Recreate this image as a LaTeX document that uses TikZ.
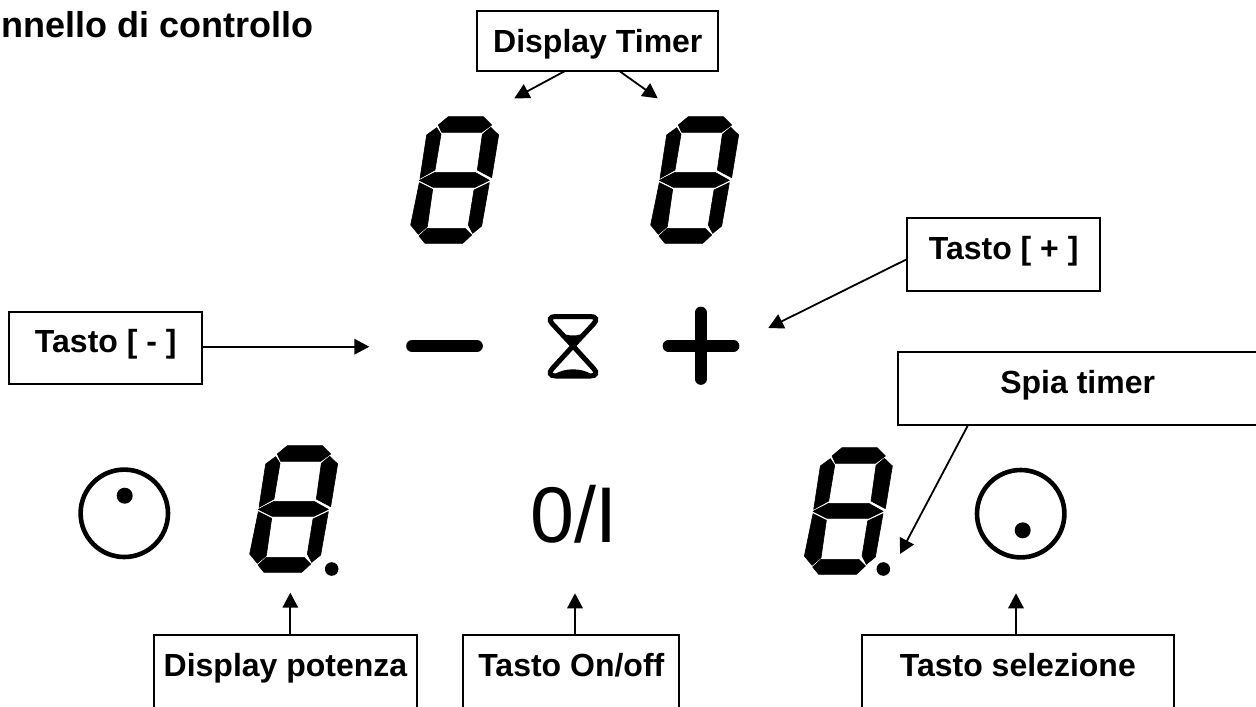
\documentclass[tikz,border=0pt]{standalone}
\usepackage{fontspec}
\setmainfont{Liberation Sans}
\usetikzlibrary{arrows.meta}
\tikzset{
  lbl/.style n args={3}{draw=black,line width=1.8pt,fill=white,rectangle,anchor=north west,inner xsep=0pt,inner ysep=0pt,outer sep=0pt,
    minimum width=#1pt,text height=#2pt,text depth=#3pt,font=\fontsize{32}{32}\selectfont\bfseries},
  conn/.style={line width=1.8pt,-{Triangle[length=15pt,width=15.5pt]},shorten >=0pt},
  seg/.style={fill=black,draw=black,line width=0.6pt,line join=round},
  thick bar/.style={line width=11.7pt,line cap=round},
  ring/.style={draw=black,line width=4.6pt},
  sevenseg/.pic={
    \begin{scope}[x=0.33333pt,y=-0.33333pt]
      \path[seg] (145,350)--(250,350)--(275,375)--(245,397)--(125,397)--(115,375)--cycle;
      \path[seg] (272,382)--(296,405)--(275,533)--(232,510)--(247,403)--cycle;
      \path[seg] (110,383)--(123,403)--(105,510)--(60,535)--(80,405)--cycle;
      \path[seg] (58,541)--(105,517)--(225,517)--(268,541)--(225,562)--(100,562)--cycle;
      \path[seg] (58,548)--(98,568)--(82,680)--(55,703)--(32,675)--cycle;
      \path[seg] (268,548)--(222,570)--(205,675)--(218,700)--(245,678)--cycle;
      \path[seg] (57,708)--(82,685)--(195,685)--(215,705)--(188,730)--(75,730)--cycle;
    \end{scope}
  }
}
\begin{document}
\begin{tikzpicture}[x=1pt,y=-1pt]
\useasboundingbox (0,0) rectangle (1256,707);
\node[anchor=base east,inner sep=0pt,font=\fontsize{36}{36}\selectfont\bfseries] (title) at (313.5,37.7) {nnello di controllo};
% digits
\pic at (400,0) {sevenseg};
\pic at (640,0) {sevenseg};
\pic at (239,329) {sevenseg};
\pic at (793.7,331) {sevenseg};
\fill (331.7,569) circle[radius=6.8];
\fill (883.3,569) circle[radius=6.8];
% knobs
\draw[ring] (124.3,513.3) circle[radius=43.7];
\fill (124.7,495.7) circle[radius=8];
\draw[ring] (1020.7,513.7) circle[radius=43.7];
\fill (1022.7,530.3) circle[radius=8];
% minus, plus
\draw[thick bar] (412,346) -- (477,346);
\draw[thick bar] (668.5,346) -- (733.5,346);
\draw[thick bar] (700.7,312.5) -- (700.7,379);
% hourglass
\draw[line width=5pt,rounded corners=10pt] (573,346) -- (545.5,316.5) -- (600.5,316.5) -- (573,346);
\draw[line width=5pt,rounded corners=10pt] (573,346) -- (545.5,376) -- (600.5,376) -- (573,346);
\fill (558,331) .. controls (566,337) and (580,337) .. (588,331) -- (573,348) -- cycle;
\fill (555,374) .. controls (560,371) and (566,369.3) .. (573,369.3) .. controls (580,369.3) and (586,371) .. (591,374) -- (591,377) -- (555,377) -- cycle;
% power symbol
\node[anchor=base,inner sep=0pt,font=\fontsize{79}{79}\selectfont] (pw) at (574,542.7) {0/I};
% boxes
\node[lbl={241}{41.7}{18.3}] (dt) at (477.3,11) {Display Timer};
\node[lbl={192.7}{41.3}{31.7}] (tp) at (907.3,218) {Tasto [ + ]};
\node[lbl={193}{41}{31.3}] (tm) at (9.3,311.7) {Tasto [ - ]};
\node[lbl={360}{41.5}{31.3}] (st) at (897.7,352) {Spia timer};
\node[lbl={263.6}{41.7}{32}] (dp) at (153.7,635) {Display potenza};
\node[lbl={216}{41.7}{32}] (on) at (463.3,635) {Tasto On/off};
\node[lbl={312.3}{41.4}{31.6}] (ts) at (861.7,635.3) {Tasto selezione};
% free ends
\coordinate (a1) at (514.3,98.3);
\coordinate (a2) at (657.7,98.3);
\coordinate (a3) at (768.3,328);
\coordinate (a4) at (369.3,346.7);
\coordinate (a5) at (900,554);
\coordinate (a6) at (290.3,592.7);
\coordinate (a7) at (575,593.3);
\coordinate (a8) at (1016,593.3);
% connectors
\draw[conn] ([xshift=-32.8pt]dt.south) -- (a1);
\draw[conn] ([xshift=21.5pt]dt.south) -- (a2);
\draw[conn] ([yshift=-4.5pt]tp.west) -- (a3);
\draw[conn] (tm.east |- a4) -- (a4);
\draw[conn] ([xshift=-109.5pt]st.south) -- (a5);
\draw[conn] (dp.north -| a6) -- (a6);
\draw[conn] (on.north -| a7) -- (a7);
\draw[conn] (ts.north -| a8) -- (a8);
\end{tikzpicture}
\end{document}
